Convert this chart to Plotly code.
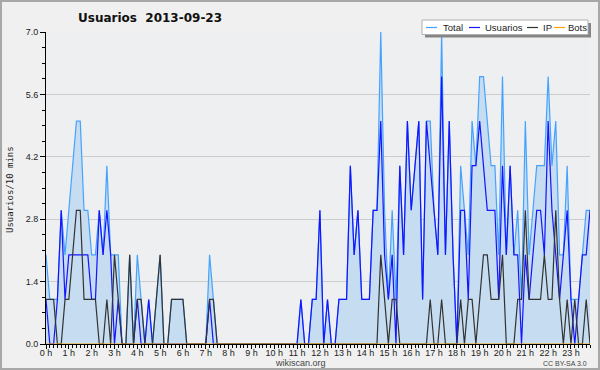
import plotly.graph_objects as go

# 10-minute slots over the day (index 0..143)
slots = list(range(144))
hour_ticks = list(range(0, 144, 6))
hour_labels = [f"{h} h" for h in range(24)]

total = [2,1,1,1,3,2,3,4,5,5,3,3,
         2,2,3,2,4,2,2,2,0,0,2,0,
         2,1,0,1,0,1,2,0,0,1,1,1,
         1,0,0,0,0,0,0,2,1,0,0,0,
         0,0,0,0,0,0,0,0,0,0,0,0,
         0,0,0,0,0,0,0,1,0,0,1,1,
         3,0,1,0,0,1,1,1,4,2,3,1,
         1,1,3,3,7,3,1,3,1,4,2,5,
         3,4,5,1,5,5,3,2,7,2,5,2,
         0,4,3,2,5,4,6,6,5,4,4,2,
         6,2,4,2,3,1,5,2,3,4,4,4,
         6,4,5,2,2,4,1,1,1,2,3,3]
usuarios = [1,0,0,1,3,1,2,2,2,2,2,2,
            1,1,3,2,3,2,0,1,0,0,0,0,
            1,0,0,1,0,0,0,0,0,0,0,0,
            0,0,0,0,0,0,0,1,0,0,0,0,
            0,0,0,0,0,0,0,0,0,0,0,0,
            0,0,0,0,0,0,0,1,0,0,1,1,
            3,0,1,0,0,1,1,1,4,2,3,1,
            1,1,3,3,5,2,1,2,0,4,2,5,
            3,4,5,1,5,4,3,2,6,2,5,2,
            0,3,3,1,4,4,5,4,3,3,3,1,
            4,2,4,2,2,0,2,1,2,3,3,2,
            5,3,2,1,2,3,1,0,1,2,2,3]
ip = [1,1,1,0,0,1,1,2,3,3,1,1,
      1,1,0,0,1,0,2,1,0,0,2,0,
      1,1,0,0,0,1,2,0,0,1,1,1,
      1,0,0,0,0,0,0,1,1,0,0,0,
      0,0,0,0,0,0,0,0,0,0,0,0,
      0,0,0,0,0,0,0,0,0,0,0,0,
      0,0,0,0,0,0,0,0,0,0,0,0,
      0,0,0,0,2,1,0,1,1,0,0,0,
      0,0,0,0,0,1,0,0,1,0,0,0,
      0,1,0,1,1,0,1,2,2,1,1,1,
      2,0,0,0,1,1,3,1,1,1,1,2,
      1,1,3,1,0,1,0,1,0,0,1,0]
bots = [0]*144

C_TOTAL = "#45a3ff"
C_USU = "#1414ff"
C_IP = "#333333"
C_BOTS = "#ffa500"

W, H = 600, 370
L, R, T, B = 46, 10, 32, 26
PW, PH = W - L - R, H - T - B

def px(x):
    return (x - L) / PW

def py(y):
    return (H - B - y) / PH

fig = go.Figure()
fig.add_trace(go.Scatter(x=slots, y=total, mode="lines", fill="tozeroy",
                         fillcolor="#c6dcf0", line=dict(color=C_TOTAL, width=1.2),
                         name="Total", showlegend=False))
fig.add_trace(go.Scatter(x=slots, y=usuarios, mode="lines",
                         line=dict(color=C_USU, width=1.2), name="Usuarios", showlegend=False))
fig.add_trace(go.Scatter(x=slots, y=ip, mode="lines",
                         line=dict(color=C_IP, width=1.2), name="IP", showlegend=False))
fig.add_trace(go.Scatter(x=slots, y=bots, mode="lines",
                         line=dict(color=C_BOTS, width=1.2), name="Bots", showlegend=False))

tick_font = dict(family="Liberation Sans, Arial, sans-serif", size=9, color="#222")

fig.update_layout(
    width=W, height=H,
    margin=dict(l=L, r=R, t=T, b=B),
    paper_bgcolor="#f0f0f0",
    plot_bgcolor="#eeeff1",
    title=dict(text="Usuarios\u00a0\u00a02013-09-23", xref="container", yref="container",
               x=78 / W, xanchor="left", y=1 - 18 / H, yanchor="middle",
               font=dict(family="DejaVu Sans", size=12, color="#111", weight="bold")),
    xaxis=dict(range=[0, 143], tickvals=hour_ticks, ticktext=hour_labels,
               showgrid=False, zeroline=False, showline=True, linecolor="black", linewidth=1,
               ticks="outside", ticklen=4, tickcolor="black", tickfont=tick_font,
               ticklabelstandoff=-4,
               minor=dict(dtick=1, tick0=0, ticks="outside", ticklen=3, tickcolor="black", showgrid=False)),
    yaxis=dict(range=[0, 7], tickvals=[0, 1.4, 2.8, 4.2, 5.6, 7.0], tickformat=".1f",
               showgrid=True, gridcolor="#cccccc", gridwidth=1, zeroline=False,
               showline=True, linecolor="black", linewidth=1,
               ticks="outside", ticklen=5, tickcolor="black", tickfont=tick_font,
               minor=dict(dtick=0.35, tick0=0, ticks="outside", ticklen=3, tickcolor="black", showgrid=False)),
    showlegend=False,
)

shapes = []
# outer border
shapes.append(dict(type="rect", xref="paper", yref="paper", x0=px(1), x1=px(599), y0=py(369), y1=py(1),
                   line=dict(color="#a8a8a8", width=2), fillcolor="rgba(0,0,0,0)", layer="above"))
# legend shadow and box
shapes.append(dict(type="rect", xref="paper", yref="paper", x0=px(425), x1=px(591), y0=py(37.5), y1=py(23),
                   line=dict(width=0), fillcolor="#858585", layer="above"))
shapes.append(dict(type="rect", xref="paper", yref="paper", x0=px(422), x1=px(588), y0=py(34.5), y1=py(20),
                   line=dict(color="#b0b0b0", width=1), fillcolor="white", layer="above"))
legend_items = [("Total", C_TOTAL, 426, 443), ("Usuarios", C_USU, 469, 485),
                ("IP", C_IP, 527, 543), ("Bots", C_BOTS, 554, 568)]
annotations = []
for name, col, lx, tx in legend_items:
    shapes.append(dict(type="line", xref="paper", yref="paper", x0=px(lx), x1=px(lx + 11),
                       y0=py(27.5), y1=py(27.5), line=dict(color=col, width=1.2), layer="above"))
    annotations.append(dict(text=name, xref="paper", yref="paper", x=px(tx - 2), y=py(27.5),
                            xanchor="left", yanchor="middle", showarrow=False,
                            font=dict(family="Liberation Sans, Arial, sans-serif", size=9.5, color="#222")))

annotations.append(dict(text="Usuarios/10 mins", xref="paper", yref="paper", x=px(10), y=py(190),
                        textangle=-90, xanchor="center", yanchor="middle", showarrow=False,
                        font=dict(family="DejaVu Sans Mono", size=9, color="#222")))
annotations.append(dict(text="wikiscan.org", xref="paper", yref="paper", x=px(300), y=py(363),
                        xanchor="center", yanchor="middle", showarrow=False,
                        font=dict(family="Liberation Sans, Arial, sans-serif", size=9, color="#444")))
annotations.append(dict(text="CC BY-SA 3.0", xref="paper", yref="paper", x=px(589), y=py(363),
                        xanchor="right", yanchor="middle", showarrow=False,
                        font=dict(family="Liberation Sans, Arial, sans-serif", size=7, color="#444")))

fig.update_layout(shapes=shapes, annotations=annotations)
fig.write_html("out.html",
               config={"displayModeBar": False},
               post_script="document.body.style.margin='0';document.body.style.padding='0';"
                           "document.body.style.overflow='hidden';")
